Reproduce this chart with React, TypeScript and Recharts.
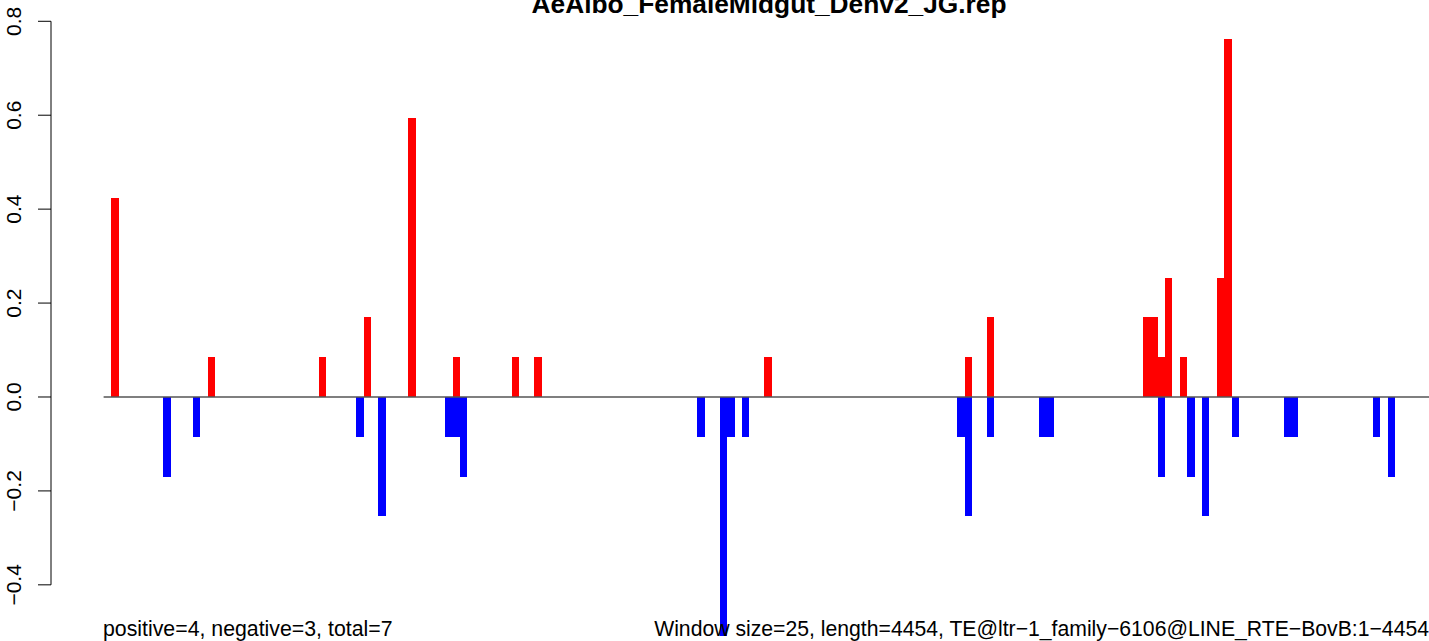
import { BarChart, Bar, XAxis, YAxis, ReferenceLine } from "recharts";

// window index (25 bp windows) and score for windows with positive / negative values
const posWindows = [1, 14, 29, 35, 41, 47, 55, 58, 89, 116, 119, 140, 141, 142, 143, 145, 150, 151];
const posValues = [
  0.4237, 0.0847, 0.0847, 0.1695, 0.5932, 0.0847, 0.0847, 0.0847, 0.0847,
  0.0847, 0.1695, 0.1695, 0.1695, 0.0847, 0.2542, 0.0847, 0.2542, 0.7627,
];

const negWindows = [
  8, 12, 34, 37, 46, 47, 48, 80, 83, 84, 86, 115, 116, 119, 126, 127, 142, 146,
  148, 152, 159, 160, 171, 173,
];
const negValues = [
  -0.1695, -0.0847, -0.0847, -0.2542, -0.0847, -0.0847, -0.1695, -0.0847,
  -0.5085, -0.0847, -0.0847, -0.0847, -0.2542, -0.0847, -0.0847, -0.0847,
  -0.1695, -0.1695, -0.2542, -0.0847, -0.0847, -0.0847, -0.0847, -0.1695,
];

const yTicks = [-0.4, -0.2, 0, 0.2, 0.4, 0.6, 0.8];

const title = "AeAlbo_FemaleMidgut_Denv2_JG.rep";
const leftNote = "positive=4, negative=3, total=7";
const rightNote =
  "Window size=25, length=4454, TE@ltr\u22121_family\u22126106@LINE_RTE\u2212BovB:1\u22124454";

const W = 1429;
const H = 641;
const AXIS_W = 51;
const XMIN = -7.59;
const XMAX = 178.13;
const YMIN = -0.5196;
const YMAX = 0.8134;
// one window wide, in pixels
const BAND = (W - AXIS_W) / (XMAX - XMIN);

const FONT = "'Liberation Sans', Arial, Helvetica, sans-serif";

const rows: { win: number; pos?: number; neg?: number }[] = [];
const allWins = Array.from(new Set([...posWindows, ...negWindows])).sort((a, b) => a - b);
allWins.forEach((w) => {
  const pi = posWindows.indexOf(w);
  const ni = negWindows.indexOf(w);
  rows.push({
    win: w,
    pos: pi >= 0 ? posValues[pi] : undefined,
    neg: ni >= 0 ? negValues[ni] : undefined,
  });
});

const fmt = (v: number) => {
  const s = Math.abs(v).toFixed(1);
  return v < 0 ? "\u2212" + s : s;
};

const YTick = (props: any) => {
  const { x, y, payload } = props;
  return (
    <text
      x={x}
      y={y}
      transform={`rotate(-90, ${x}, ${y})`}
      textAnchor="middle"
      fontSize={21}
      fontFamily={FONT}
      fill="#000"
    >
      {fmt(payload.value)}
    </text>
  );
};

// full-window rectangle, centred where recharts put the bar
const WindowBar = (props: any) => {
  const { x, y, width, height, fill } = props;
  if (x == null || !height) return null;
  const cx = x + width / 2;
  const top = Math.min(y, y + height);
  return (
    <rect
      x={cx - BAND / 2}
      y={top}
      width={BAND}
      height={Math.abs(height)}
      fill={fill}
      shapeRendering="crispEdges"
    />
  );
};

export default function App() {
  return (
    <div style={{ position: "absolute", left: 0, top: 0, width: W, height: H, background: "#fff" }}>
      <BarChart
        width={W}
        height={H}
        data={rows}
        stackOffset="sign"
        margin={{ top: 15, right: 0, bottom: 0, left: 0 }}
      >
        <XAxis
          type="number"
          dataKey="win"
          domain={[XMIN, XMAX]}
          allowDataOverflow
          hide
        />
        <YAxis
          type="number"
          domain={[YMIN, YMAX]}
          allowDataOverflow
          ticks={yTicks}
          width={AXIS_W}
          axisLine={false}
          tickSize={13}
          tickMargin={17}
          tickLine={{ stroke: "#000", strokeWidth: 1 }}
          tick={<YTick />}
        />
        <ReferenceLine
          segment={[
            { x: XMIN, y: -0.4 },
            { x: XMIN, y: 0.8 },
          ]}
          stroke="#000"
          strokeWidth={1}
          ifOverflow="visible"
        />
        <Bar
          dataKey="pos"
          stackId="s"
          fill="#ff0000"
          barSize={6}
          shape={<WindowBar />}
          isAnimationActive={false}
        />
        <Bar
          dataKey="neg"
          stackId="s"
          fill="#0000ff"
          barSize={6}
          shape={<WindowBar />}
          isAnimationActive={false}
        />
        <ReferenceLine
          segment={[
            { x: -0.5, y: 0 },
            { x: XMAX, y: 0 },
          ]}
          stroke="#555"
          strokeWidth={1.3}
          ifOverflow="visible"
        />
      </BarChart>
      <svg
        width={W}
        height={H}
        style={{ position: "absolute", left: 0, top: 0, pointerEvents: "none" }}
      >
        <text x={769} y={13} textAnchor="middle" fontSize={26.3} fontWeight="bold" fontFamily={FONT}>
          {title}
        </text>
        <text x={103} y={636} fontSize={21.3} fontFamily={FONT}>
          {leftNote}
        </text>
        <text x={1429} y={636} textAnchor="end" fontSize={21.2} fontFamily={FONT}>
          {rightNote}
        </text>
      </svg>
    </div>
  );
}
